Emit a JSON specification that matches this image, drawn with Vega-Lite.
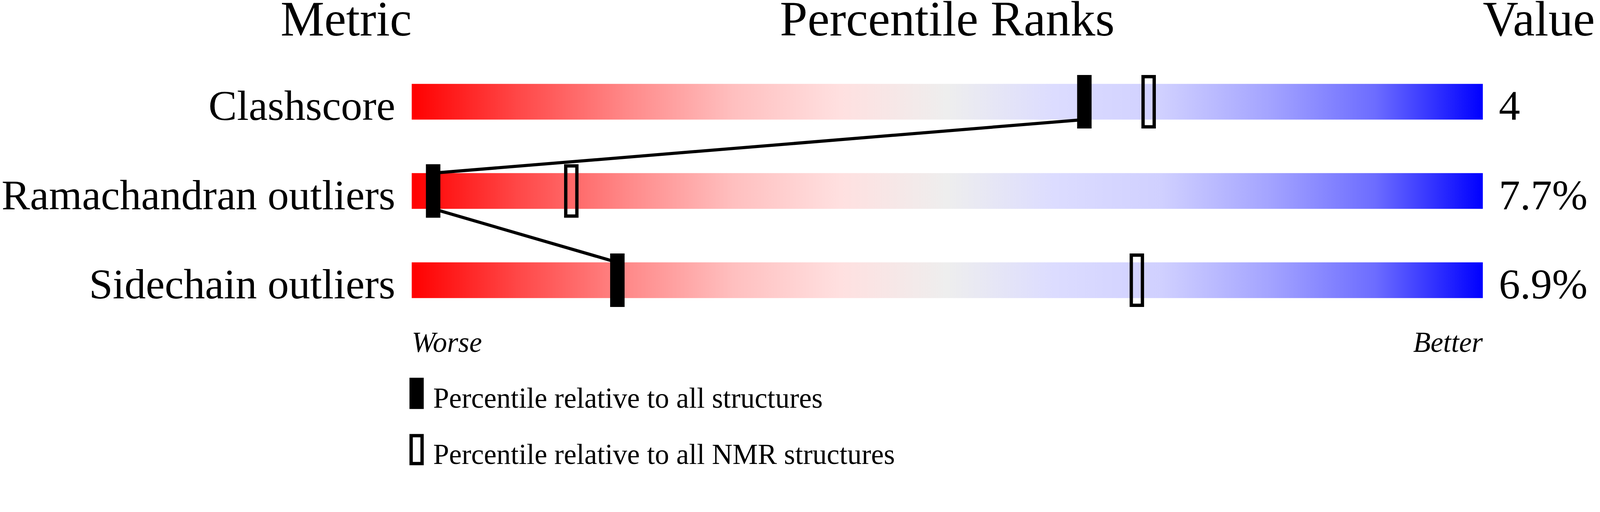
{
  "$schema": "https://vega.github.io/schema/vega-lite/v6.json",
  "width": 4099,
  "height": 1198,
  "autosize": {"type": "none"},
  "padding": 0,
  "background": "white",
  "datasets": {
    "metrics": [
      {"metric": "Clashscore", "value": "4"},
      {"metric": "Ramachandran outliers", "value": "7.7%"},
      {"metric": "Sidechain outliers", "value": "6.9%"}
    ],
    "ranks": [
      {"metric": "Clashscore", "reference": "Percentile relative to all structures", "percentile": 62.8},
      {"metric": "Clashscore", "reference": "Percentile relative to all NMR structures", "percentile": 68.8},
      {"metric": "Ramachandran outliers", "reference": "Percentile relative to all structures", "percentile": 2.0},
      {"metric": "Ramachandran outliers", "reference": "Percentile relative to all NMR structures", "percentile": 14.9},
      {"metric": "Sidechain outliers", "reference": "Percentile relative to all structures", "percentile": 19.2},
      {"metric": "Sidechain outliers", "reference": "Percentile relative to all NMR structures", "percentile": 67.7}
    ],
    "links": [
      {"from": "Clashscore", "to": "Ramachandran outliers", "from_pct": 62.8, "to_pct": 2.0},
      {"from": "Ramachandran outliers", "to": "Sidechain outliers", "from_pct": 2.0, "to_pct": 19.2}
    ]
  },
  "layer": [
    {
      "data": {"name": "metrics"},
      "mark": {
        "type": "bar",
        "height": 91.4,
        "fill": {
          "gradient": "linear",
          "x1": 0, "x2": 1, "y1": 0, "y2": 0,
          "stops": [
            {"offset": 0, "color": "#ff0000"},
            {"offset": 0.1, "color": "#ff4848"},
            {"offset": 0.2, "color": "#ff8888"},
            {"offset": 0.3, "color": "#ffbfbf"},
            {"offset": 0.4, "color": "#ffe0e0"},
            {"offset": 0.5, "color": "#eeeeee"},
            {"offset": 0.6, "color": "#dcdcff"},
            {"offset": 0.7, "color": "#d0d0ff"},
            {"offset": 0.8, "color": "#a4a4ff"},
            {"offset": 0.9, "color": "#6c6cff"},
            {"offset": 1, "color": "#0000ff"}
          ]
        }
      },
      "encoding": {
        "y": {
          "field": "metric",
          "type": "nominal",
          "scale": {"type": "point", "domain": ["Clashscore", "Ramachandran outliers", "Sidechain outliers"], "range": [260.5, 717.5], "padding": 0},
          "axis": null
        },
        "x": {"datum": 0, "type": "quantitative", "scale": {"domain": [0, 100], "range": [1054, 3796], "nice": false, "zero": false}, "axis": null},
        "x2": {"datum": 100}
      }
    },
    {
      "data": {"name": "links"},
      "mark": {"type": "rule", "color": "black", "strokeWidth": 8, "yOffset": 45.7, "y2Offset": -45.7},
      "encoding": {
        "x": {"field": "from_pct", "type": "quantitative", "axis": null},
        "x2": {"field": "to_pct"},
        "y": {"field": "from", "type": "nominal", "axis": null},
        "y2": {"field": "to"}
      }
    },
    {
      "data": {"name": "ranks"},
      "mark": {"type": "tick", "thickness": 28.5, "size": 128.5, "stroke": "black", "strokeWidth": 8.5, "opacity": 1},
      "encoding": {
        "x": {"field": "percentile", "type": "quantitative", "axis": null},
        "y": {"field": "metric", "type": "nominal", "axis": null},
        "fill": {
          "field": "reference",
          "type": "nominal",
          "scale": {
            "domain": ["Percentile relative to all structures", "Percentile relative to all NMR structures"],
            "range": ["black", "transparent"]
          },
          "legend": {
            "title": null,
            "orient": "none",
            "legendX": 1030,
            "legendY": 1007,
            "direction": "vertical",
            "padding": 0,
            "symbolType": "M-2.8,-14.4H2.8V-0.1H-2.8Z",
            "symbolSize": 100,
            "symbolStrokeColor": "black",
            "symbolStrokeWidth": 8.5,
            "symbolOpacity": 1,
            "labelFont": "Liberation Serif",
            "labelFontSize": 73,
            "labelColor": "black",
            "labelBaseline": "alphabetic",
            "labelOffset": 6,
            "labelLimit": 3000,
            "rowPadding": 38
          }
        }
      }
    },
    {
      "data": {"name": "metrics"},
      "mark": {"type": "text", "align": "right", "baseline": "alphabetic", "dx": -42, "dy": 46.5, "fontSize": 109, "color": "black"},
      "encoding": {
        "x": {"datum": 0, "type": "quantitative", "axis": null},
        "y": {"field": "metric", "type": "nominal", "axis": null},
        "text": {"field": "metric"}
      }
    },
    {
      "data": {"name": "metrics"},
      "mark": {"type": "text", "align": "left", "baseline": "alphabetic", "dx": 41, "dy": 46.5, "fontSize": 109, "color": "black"},
      "encoding": {
        "x": {"datum": 100, "type": "quantitative", "axis": null},
        "y": {"field": "metric", "type": "nominal", "axis": null},
        "text": {"field": "value"}
      }
    },
    {
      "data": {"values": [{}]},
      "mark": {"type": "text", "text": "Metric", "align": "right", "baseline": "alphabetic", "dy": -169.5, "fontSize": 126, "color": "black"},
      "encoding": {
        "x": {"datum": 0, "type": "quantitative", "axis": null},
        "y": {"datum": "Clashscore", "type": "nominal", "axis": null}
      }
    },
    {
      "data": {"values": [{}]},
      "mark": {"type": "text", "text": "Percentile Ranks", "align": "center", "baseline": "alphabetic", "dy": -169.5, "fontSize": 127, "color": "black"},
      "encoding": {
        "x": {"datum": 50, "type": "quantitative", "axis": null},
        "y": {"datum": "Clashscore", "type": "nominal", "axis": null}
      }
    },
    {
      "data": {"values": [{}]},
      "mark": {"type": "text", "text": "Value", "align": "left", "baseline": "alphabetic", "dy": -169.5, "fontSize": 126, "color": "black"},
      "encoding": {
        "x": {"datum": 100, "type": "quantitative", "axis": null},
        "y": {"datum": "Clashscore", "type": "nominal", "axis": null}
      }
    },
    {
      "data": {"values": [{}]},
      "mark": {"type": "text", "text": "Worse", "align": "left", "baseline": "alphabetic", "dy": 183.7, "fontSize": 73, "fontStyle": "italic", "color": "black"},
      "encoding": {
        "x": {"datum": 0, "type": "quantitative", "axis": null},
        "y": {"datum": "Sidechain outliers", "type": "nominal", "axis": null}
      }
    },
    {
      "data": {"values": [{}]},
      "mark": {"type": "text", "text": "Better", "align": "right", "baseline": "alphabetic", "dy": 183.7, "fontSize": 73, "fontStyle": "italic", "color": "black"},
      "encoding": {
        "x": {"datum": 100, "type": "quantitative", "axis": null},
        "y": {"datum": "Sidechain outliers", "type": "nominal", "axis": null}
      }
    }
  ],
  "config": {
    "font": "Liberation Serif",
    "view": {"stroke": null}
  }
}
